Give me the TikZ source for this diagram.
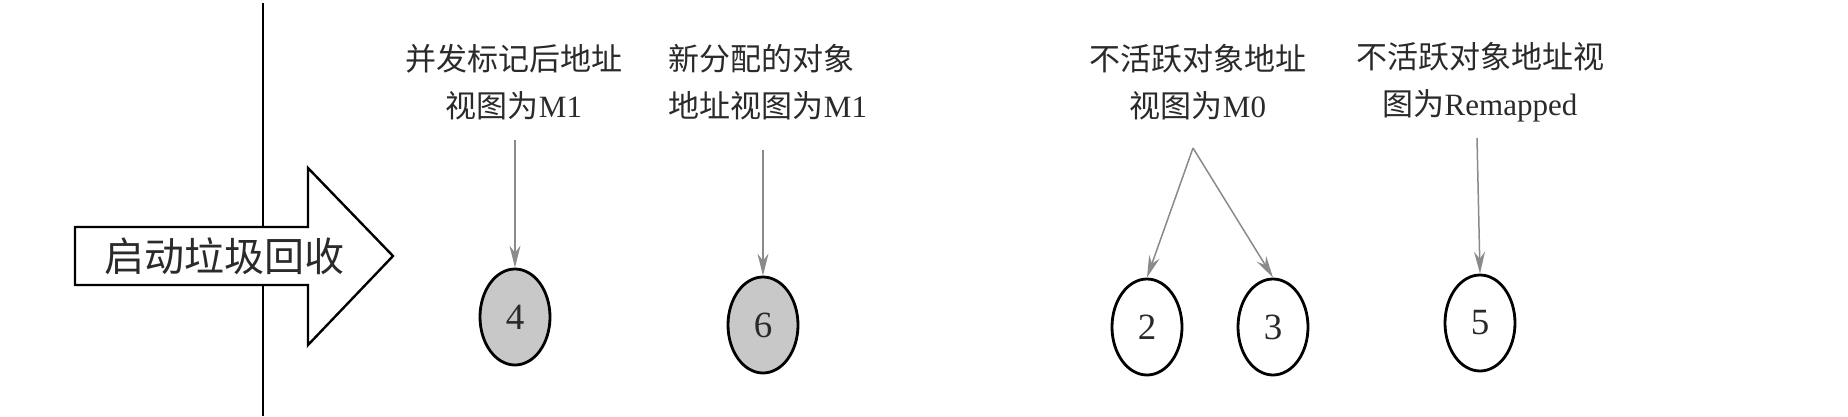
\documentclass[tikz,border=0pt]{standalone}
\usepackage{fontspec}
\setmainfont{Liberation Serif}
\newfontfamily\cjk{Noto Sans CJK SC}
\usetikzlibrary{shapes.geometric,arrows.meta}
\definecolor{txtgray}{HTML}{2A2A2A}
\definecolor{arrgray}{HTML}{8A8A8A}
\definecolor{objfill}{HTML}{C8C8C8}
\begin{document}
\begin{tikzpicture}[x=1pt,y=-1pt]
    \tikzstyle{every node}+=[inner sep=0pt]
    \tikzstyle{obj}=[ellipse,draw=black,line width=2.8pt,minimum width=70pt,minimum height=96pt,font=\fontsize{37}{37}\selectfont,text=txtgray]
    \tikzstyle{old}=[obj,fill=objfill]
    \tikzstyle{lbl}=[align=center,text=txtgray,font=\fontsize{31}{47}\selectfont]
    \tikzstyle{ptr}=[arrgray,line width=1.5pt,-{Stealth[length=22pt,width=11pt]}]
    \useasboundingbox (0,0) rectangle (1848,416);
    \draw [black,line width=2.2pt] (263,3) -- (263,416);
    \draw [black,line width=2.4pt,fill=white] (75,227) -- (308,227) -- (308,168) -- (393,256) -- (308,345) -- (308,285) -- (75,285) -- cycle;
    \node [font=\cjk\fontsize{40}{40}\selectfont,text=txtgray] (start) at (224,256) {启动垃圾回收};
    % objects
    \node [old] (o4) at (515,317) {4};
    \node [old] (o6) at (763,325) {6};
    \node [obj] (o2) at (1147,327) {2};
    \node [obj] (o3) at (1273,327) {3};
    \node [obj] (o5) at (1480,323) {5};
    % labels
    \node [lbl] (l4) at (514,82) {{\cjk 并发标记后地址}\\{\cjk 视图为}M1};
    \node [lbl,align=left] (l6) at (768,82) {{\cjk 新分配的对象}\\{\cjk 地址视图为}M1};
    \node [lbl] (l23) at (1198,82) {{\cjk 不活跃对象地址}\\{\cjk 视图为}M0};
    \node [lbl] (l5) at (1480,82) {{\cjk 不活跃对象地址视}\\{\cjk 图为}Remapped};
    \coordinate (p4) at (515,140);
    \coordinate (p6) at (763,150);
    \coordinate (p23) at (1193,148);
    \coordinate (p5) at (1477,138);
    \draw [ptr] (p4) -- (o4.north);
    \draw [ptr] (p6) -- (o6.north);
    \draw [ptr] (p23) -- (o2.north);
    \draw [ptr] (p23) -- (o3.north);
    \draw [ptr] (p5) -- (o5.north);
\end{tikzpicture}
\end{document}
